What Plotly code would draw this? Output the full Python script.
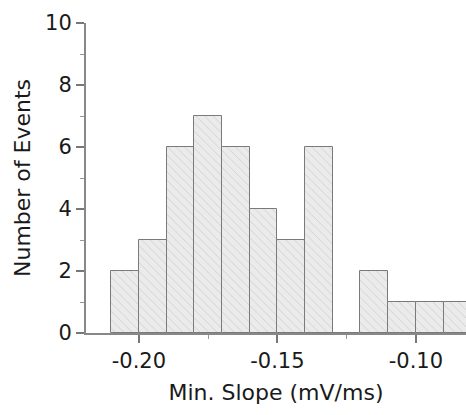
import plotly.graph_objects as go

# Histogram of minimum slopes (bin width 0.01 mV/ms)
bin_left = [-0.21, -0.20, -0.19, -0.18, -0.17, -0.16, -0.15, -0.14, -0.13, -0.12, -0.11, -0.10, -0.09]
counts = [2, 3, 6, 7, 6, 4, 3, 6, 0, 2, 1, 1, 1]
bin_width = 0.01

x_tickvals = [-0.20, -0.15, -0.10]
x_ticktext = ["-0.20", "-0.15", "-0.10"]
y_tickvals = [0, 2, 4, 6, 8, 10]
y_ticktext = ["0", "2", "4", "6", "8", "10"]

centers = [b + bin_width / 2 for b in bin_left]

fig = go.Figure()
fig.add_trace(go.Bar(
    x=centers, y=counts, width=bin_width,
    marker=dict(
        color="#ebebeb",
        line=dict(color="#7a7a7a", width=1),
        pattern=dict(shape="\\", fgcolor="#b5b5b5", bgcolor="#ebebeb", size=6, solidity=0.15),
    ),
    showlegend=False,
))

fig.update_layout(
    width=466, height=415,
    margin=dict(l=86, r=0, t=23, b=82, autoexpand=False),
    paper_bgcolor="white", plot_bgcolor="white",
    bargap=0,
    font=dict(family="DejaVu Sans", size=21, color="#1a1a1a"),
    xaxis=dict(
        range=[-0.2191, -0.0819], automargin=False,
        tickvals=x_tickvals, ticktext=x_ticktext,
        ticks="outside", ticklen=8, tickwidth=1.5, tickcolor="#777",
        minor=dict(dtick=0.025, tick0=-0.2, ticks="outside", ticklen=4, tickcolor="#999", tickwidth=1),
        showline=True, linecolor="#888", linewidth=2,
        showgrid=False, zeroline=False,
        title=dict(text="Min. Slope (mV/ms)", font=dict(family="DejaVu Sans", size=22, color="#1a1a1a"), standoff=12),
        tickfont=dict(family="DejaVu Sans", size=21, color="#1a1a1a"),
    ),
    yaxis=dict(
        range=[0, 10], automargin=False,
        tickvals=y_tickvals, ticktext=y_ticktext,
        ticks="outside", ticklen=8, tickwidth=1.5, tickcolor="#777",
        minor=dict(dtick=1, ticks="outside", ticklen=4, tickcolor="#999", tickwidth=1),
        showline=True, linecolor="#888", linewidth=2,
        showgrid=False, zeroline=False,
        title=dict(text="Number of Events", font=dict(family="DejaVu Sans", size=22, color="#1a1a1a"), standoff=8),
        tickfont=dict(family="DejaVu Sans", size=21, color="#1a1a1a"),
    ),
)

fig.write_html(
    "out.html",
    config={"displayModeBar": False},
    post_script="document.body.style.margin='0';document.body.style.overflow='hidden';",
)
